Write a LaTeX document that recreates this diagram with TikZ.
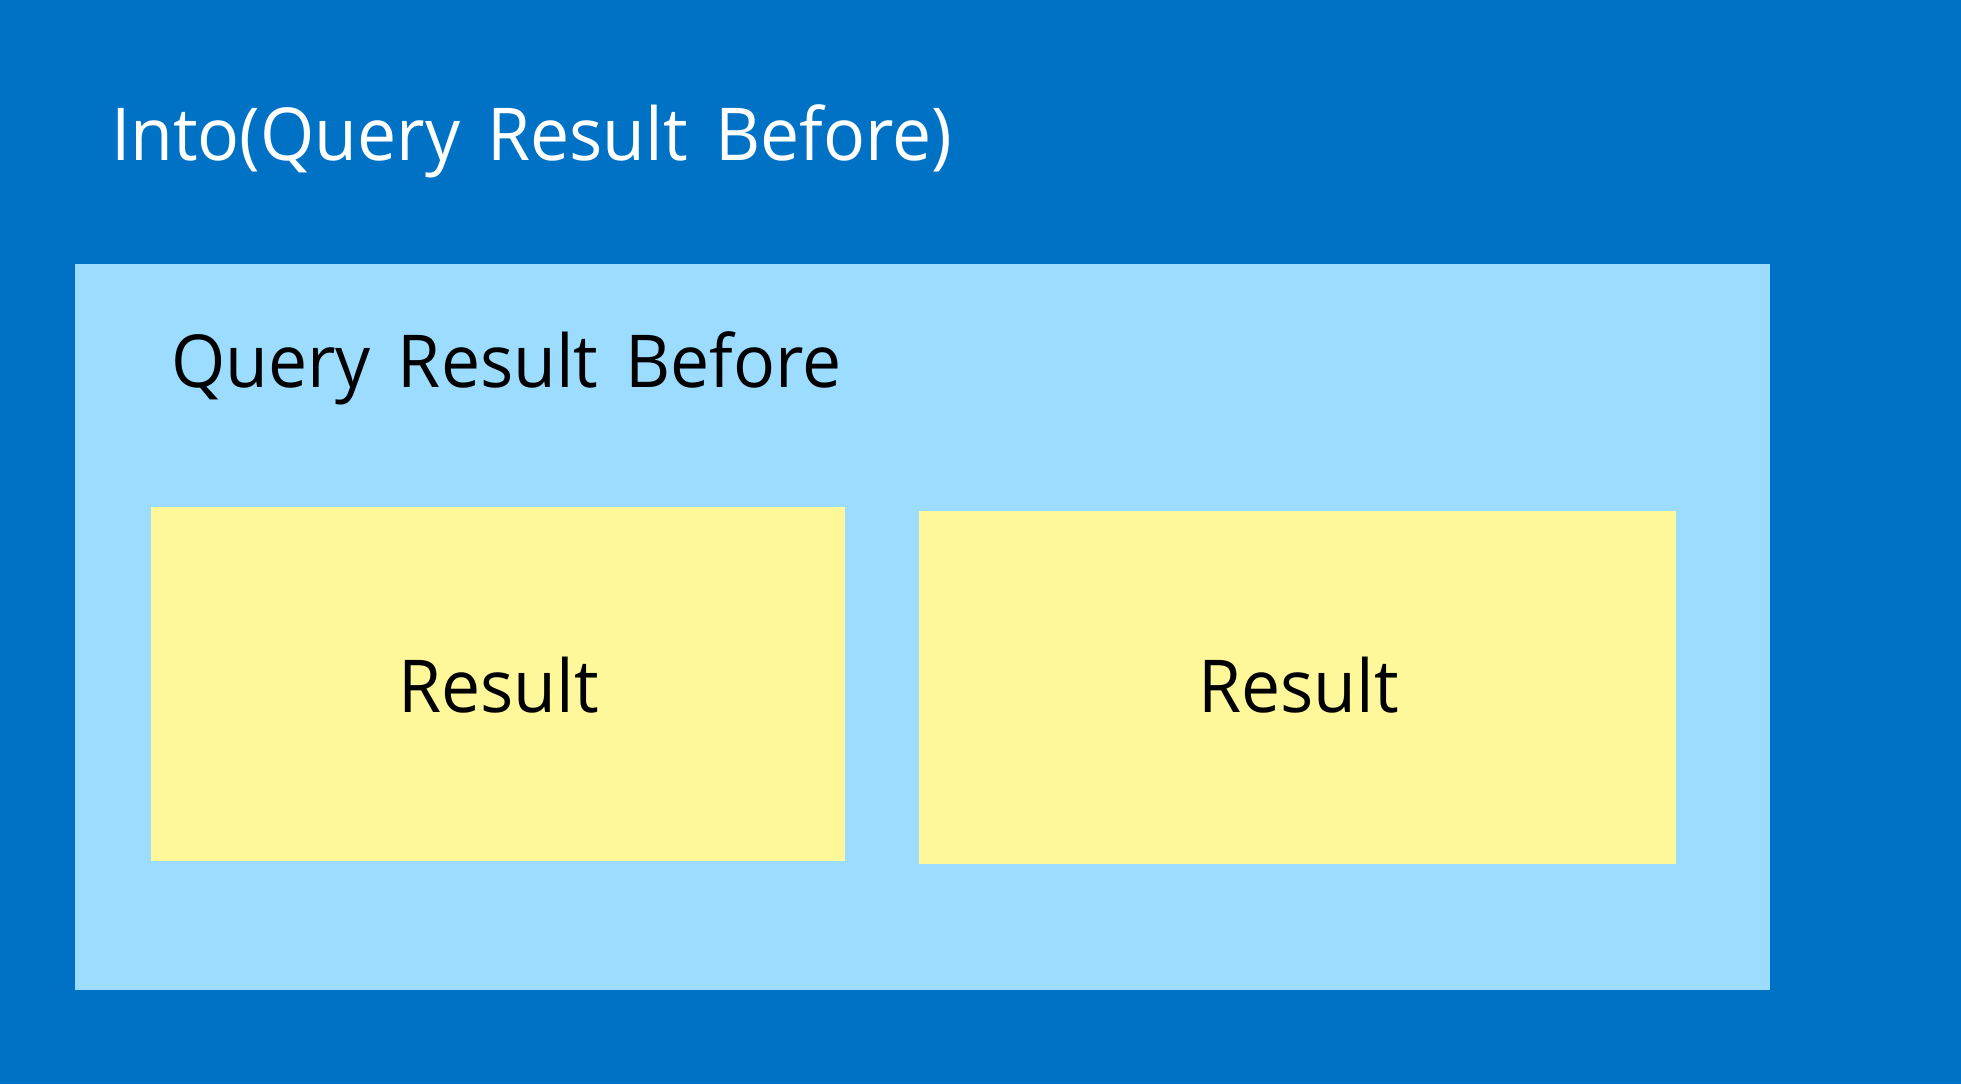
\documentclass[tikz,border=0pt]{standalone}
\usepackage{fontspec}
\setmainfont{Open Sans}[FakeStretch=0.955, WordSpace=1.5]
\definecolor{darkblue}{RGB}{0,114,198}
\definecolor{lightblue}{RGB}{155,220,255}
\definecolor{stickyyellow}{RGB}{255,248,155}
\begin{document}
\begin{tikzpicture}[x=1pt,y=-1pt,
  bigtext/.style={font=\fontsize{73}{80}\selectfont, inner sep=0pt, outer sep=0pt},
  resultbox/.style={fill=stickyyellow, draw=none}]
\useasboundingbox (0,0) rectangle (1961,1084);
\fill[darkblue] (0,0) rectangle (1961,1084);
\node[bigtext, text=white, anchor=base west] (title) at (111,160) {Into(Query Result Before)};
\fill[lightblue] (75,264) rectangle (1770,990);
\node[bigtext, text=black, anchor=base west] (qrb) at (171,387) {Query Result Before};
\fill[resultbox] (151,507) rectangle (845,861);
\fill[resultbox] (919,511) rectangle (1676,864);
\node[bigtext, text=black, anchor=base] (r1) at (498.5,712) {Result};
\node[bigtext, text=black, anchor=base] (r2) at (1298.5,712) {Result};
\end{tikzpicture}
\end{document}
